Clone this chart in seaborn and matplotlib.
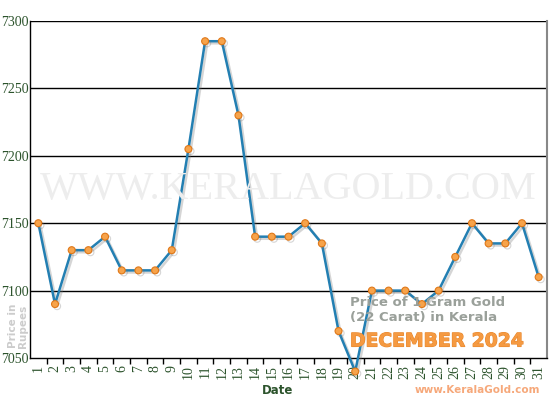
import numpy as np
import pandas as pd
import seaborn as sns
import matplotlib.pyplot as plt
import matplotlib.patheffects as pe

# December 2024 gold rate, 1 gram 22 carat (Kerala)
dates = list(range(1, 32))
prices = [7150, 7090, 7130, 7130, 7140, 7115, 7115, 7115, 7130, 7205,
          7285, 7285, 7230, 7140, 7140, 7140, 7150, 7135, 7070, 7040,
          7100, 7100, 7100, 7090, 7100, 7125, 7150, 7135, 7135, 7150, 7110]
y_ticks = [7050, 7100, 7150, 7200, 7250, 7300]

df = pd.DataFrame({'Date': dates, 'Price': prices})

sns.set_style('white')
plt.rcParams['font.family'] = ['DejaVu Sans']

fig = plt.figure(figsize=(5.5, 4), dpi=100)
ax = fig.add_axes([30 / 550, 42 / 400, 517 / 550, 337 / 400])

green = '#2c532c'

# watermark
fig.text(288 / 550, 1 - 190 / 400, 'WWW.KERALAGOLD.COM', ha='center', va='center',
         fontsize=29, color='#ededed', family='Liberation Serif', zorder=0)

for v in y_ticks[1:]:
    ax.axhline(v, color='black', lw=1.0, zorder=1)

sns.lineplot(data=df, x='Date', y='Price', ax=ax, color='#237fb2', lw=1.8,
             marker='o', markersize=5, markerfacecolor='#f7a34a',
             markeredgecolor='#e07818', markeredgewidth=0.8, clip_on=False, zorder=5,
             path_effects=[pe.SimpleLineShadow(offset=(1.5, -1.5), shadow_color='#777777', alpha=0.3),
                           pe.Normal()])

ax.set_xlim(0.5, 31.5)
ax.set_ylim(7050, 7300)
ax.set_yticks(y_ticks)
ax.set_yticklabels([str(v) for v in y_ticks], family='Liberation Serif', fontsize=10, color=green)
ax.tick_params(axis='y', length=0, pad=1)

ax.set_xticks(dates)
ax.set_xticklabels([str(d) for d in dates], rotation=90, family='Liberation Serif',
                   fontsize=10, color=green)
ax.set_xticks(np.arange(1.5, 31, 1), minor=True)
ax.tick_params(axis='x', which='major', length=0, pad=5)
ax.tick_params(axis='x', which='minor', length=4, width=1, color='black', bottom=True)

ax.set_xlabel('')
ax.set_ylabel('')
for side in ['left', 'bottom']:
    ax.spines[side].set_color('black')
    ax.spines[side].set_linewidth(1.0)
ax.spines['top'].set_visible(False)
ax.spines['right'].set_color('#888888')
ax.spines['right'].set_linewidth(1.5)

fig.text(278 / 550, 1 - 391 / 400, 'Date', ha='center', va='center', fontsize=8.5,
         fontweight='bold', color=green)
fig.text(18 / 550, 1 - 326 / 400, 'Price in\nRupees', ha='center', va='center', rotation=90,
         fontsize=7.5, fontweight='bold', color='#cccccc', linespacing=1.0)
fig.text(540 / 550, 1 - 390 / 400, 'www.KeralaGold.com', ha='right', va='center', fontsize=7.5,
         fontweight='bold', color='#f6a87a')

fig.text(350 / 550, 1 - 303 / 400, 'Price of 1 Gram Gold', ha='left', va='center', fontsize=9.5,
         fontweight='bold', color='#9aa09a', zorder=6)
fig.text(350 / 550, 1 - 318 / 400, '(22 Carat) in Kerala', ha='left', va='center', fontsize=9.5,
         fontweight='bold', color='#9aa09a', zorder=6)
fig.text(350 / 550, 1 - 341 / 400, 'DECEMBER 2024', ha='left', va='center', fontsize=13.5,
         fontweight='bold', color='#f59a42', zorder=6,
         path_effects=[pe.withStroke(linewidth=0.8, foreground='#e8862a')])

fig.savefig('out.png', dpi=100)
